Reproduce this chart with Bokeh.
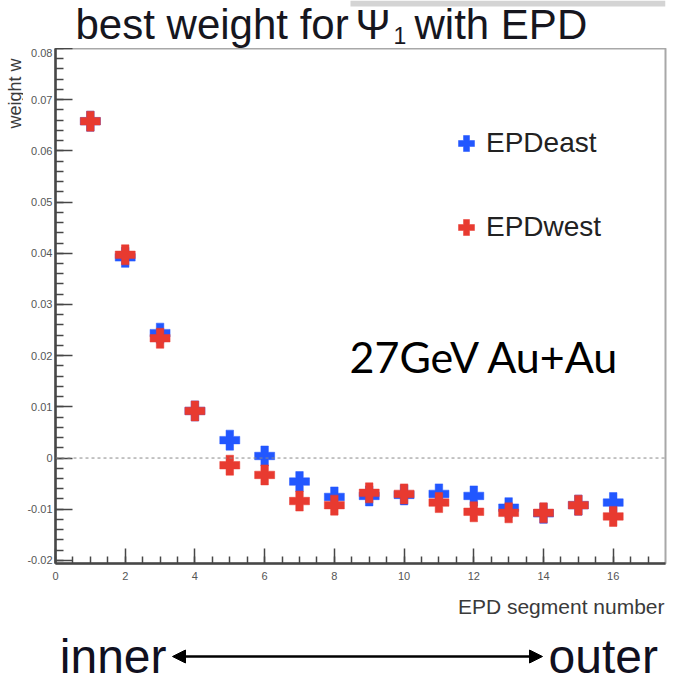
import numpy as np
from bokeh.plotting import figure
from bokeh.models import (Range1d, FixedTicker, Span, Label, Legend, LegendItem,
                          Arrow, NormalHead)
from bokeh.layouts import column, row
from bokeh.embed import file_html
from bokeh.resources import INLINE

# best weights per EPD ring (segment 1 = innermost)
segments = list(range(1, 17))
w_east = [0.0658, 0.0392, 0.0244, 0.0092, 0.0035, 0.0004, -0.0046, -0.0076,
          -0.0074, -0.0072, -0.0070, -0.0074, -0.0097, -0.0108, -0.0092, -0.0087]
w_west = [0.0658, 0.0397, 0.0234, 0.0092, -0.0014, -0.0033, -0.0084, -0.0092,
          -0.0068, -0.0070, -0.0087, -0.0105, -0.0107, -0.0107, -0.0092, -0.0114]

x_ticks = [0, 2, 4, 6, 8, 10, 12, 14, 16]
x_tick_labels = ["0", "2", "4", "6", "8", "10", "12", "14", "16"]
y_ticks = [-0.02, -0.01, 0.0, 0.01, 0.02, 0.03, 0.04, 0.05, 0.06, 0.07, 0.08]
y_tick_labels = ["-0.02", "-0.01", "0", "0.01", "0.02", "0.03", "0.04",
                 "0.05", "0.06", "0.07", "0.08"]

series_names = ["EPDeast", "EPDwest"]
series_colors = ["#2257ff", "#e83a30"]

# ---- page geometry (pixels from the top-left of the page) ----
W = 679
LEFT, RIGHT = 55, 665          # frame edges shared by all strips
TOP, BOTTOM = 48, 563          # frame of the main plot
MAIN_END = 590                 # main plot ends just under its tick labels
PAGE_H = 685
YLAB_W = 23                    # strip holding the y-axis title
X0, X1 = 0.0, 17.5
Y0, Y1 = -0.0206, 0.08


def cx(px):
    return X0 + (px - LEFT) / (RIGHT - LEFT) * (X1 - X0)


def cy(py):
    return Y1 - (py - TOP) / (BOTTOM - TOP) * (Y1 - Y0)


def blank(width, height, x_rng, y_rng, bl, br, bt, bb):
    """A figure without axes; data coordinates are page pixels."""
    f = figure(width=width, height=height, output_backend="svg",
               toolbar_location=None, x_range=Range1d(*x_rng),
               y_range=Range1d(*y_rng),
               min_border_left=bl, min_border_right=br,
               min_border_top=bt, min_border_bottom=bb,
               x_axis_location=None, y_axis_location=None)
    f.grid.visible = False
    f.outline_line_color = None
    f.background_fill_color = "white"
    f.border_fill_color = "white"
    return f


# ---- title strip ----
t = blank(W, TOP, (LEFT, RIGHT), (TOP, 0), LEFT, W - RIGHT, 0, 0)
t.quad(left=[350], right=[RIGHT], top=[0], bottom=[6],
       fill_color="#d4d4d4", line_color=None)
title_font = "Liberation Sans"
title_col = "#16161e"
title_parts = [("best weight for", 75, 24, "42px"),
               ("\u03a8", 355, 24, "42px"),
               ("1", 393, 34.5, "23px"),
               ("with EPD", 414, 24, "42px")]
for txt, x, y, size in title_parts:
    t.add_layout(Label(x=x, y=y, text=txt, text_font=title_font,
                       text_font_size=size, text_color=title_col,
                       text_align="left", text_baseline="middle"))

# ---- y-axis title strip ----
yl = blank(YLAB_W, MAIN_END - TOP, (0, YLAB_W), (BOTTOM, TOP),
           0, 0, 0, MAIN_END - BOTTOM)
yl.add_layout(Label(x=14, y=58, text="weight w", angle=np.pi / 2,
                    text_align="right", text_baseline="middle",
                    text_font="Liberation Sans", text_font_size="18px",
                    text_color="#3a3a3a"))

# ---- main plot ----
p = figure(width=W - YLAB_W, height=MAIN_END - TOP, output_backend="svg",
           toolbar_location=None,
           x_range=Range1d(X0, X1), y_range=Range1d(Y0, Y1),
           min_border_left=LEFT - YLAB_W, min_border_right=W - RIGHT,
           min_border_top=0, min_border_bottom=MAIN_END - BOTTOM)
p.grid.visible = False
p.background_fill_color = "white"
p.border_fill_color = "white"
p.outline_line_color = "#a8a8a8"
p.outline_line_width = 2

axis_col = "#474747"
for ax in (p.xaxis[0], p.yaxis[0]):
    ax.axis_line_color = axis_col
    ax.axis_line_width = 2.5
    ax.major_tick_line_color = axis_col
    ax.minor_tick_line_color = axis_col
    ax.major_tick_line_width = 1.5
    ax.minor_tick_line_width = 1.5
    ax.major_tick_out = 0
    ax.minor_tick_out = 0
    ax.major_label_text_font = "Liberation Sans"
    ax.major_label_text_font_size = "11px"
    ax.major_label_text_color = "#555555"

p.xaxis.ticker = FixedTicker(ticks=x_ticks,
                             minor_ticks=list(np.arange(0, 17.5, 0.5)))
p.xaxis.major_label_overrides = dict(zip(x_ticks, x_tick_labels))
p.xaxis.major_tick_in = 15
p.xaxis.minor_tick_in = 7
p.xaxis.major_label_standoff = 8

p.yaxis.ticker = FixedTicker(ticks=y_ticks,
                             minor_ticks=list(np.round(np.arange(-0.02, 0.0801, 0.002), 4)))
p.yaxis.major_label_overrides = dict(zip(y_ticks, y_tick_labels))
p.yaxis.major_tick_in = 17
p.yaxis.minor_tick_in = 8
p.yaxis.major_label_standoff = 3

# dashed reference line at w = 0
p.add_layout(Span(location=0, dimension="width", line_color="#8a8a8a",
                  line_dash="3 3", line_width=1))

r_east = p.scatter(segments, w_east, marker="plus", size=20,
                   fill_color=series_colors[0], line_color=series_colors[0],
                   line_width=0.5)
r_west = p.scatter(segments, w_west, marker="plus", size=20,
                   fill_color=series_colors[1], line_color=series_colors[1],
                   line_width=0.5)

legend = Legend(items=[LegendItem(label=series_names[0], renderers=[r_east]),
                       LegendItem(label=series_names[1], renderers=[r_west])],
                location=(391, 312), orientation="vertical",
                glyph_width=40, glyph_height=48, spacing=36,
                label_standoff=0, padding=0, margin=0,
                border_line_color=None, background_fill_alpha=0,
                label_text_font="Liberation Sans", label_text_font_size="28px",
                label_text_color="#222222")
p.add_layout(legend)

# energy / system annotation
p.add_layout(Label(x=cx(349), y=cy(356), text="27GeV Au+Au",
                   text_font="Lato", text_font_size="43px",
                   text_color="black", text_baseline="middle"))

# ---- x-axis title and inner <-> outer strip ----
q = blank(W, PAGE_H - MAIN_END, (LEFT, RIGHT), (PAGE_H, MAIN_END),
          LEFT, W - RIGHT, 0, 0)
q.add_layout(Label(x=664, y=606, text="EPD segment number", text_align="right",
                   text_baseline="middle", text_font="Liberation Sans",
                   text_font_size="21px", text_color="#3a3a3a"))
q.add_layout(Arrow(start=NormalHead(size=13, fill_color="black", line_color="black"),
                   end=NormalHead(size=13, fill_color="black", line_color="black"),
                   x_start=172, y_start=656, x_end=542, y_end=656,
                   line_width=2.5, line_color="black"))
q.add_layout(Label(x=166, y=656, text="inner", text_align="right",
                   text_font="Liberation Sans", text_font_size="48px",
                   text_color="#101020", text_baseline="middle"))
q.add_layout(Label(x=548, y=656, text="outer", text_align="left",
                   text_font="Liberation Sans", text_font_size="48px",
                   text_color="#101020", text_baseline="middle"))

layout = column(t, row(yl, p, spacing=0), q, spacing=0)
open("out.html", "w").write(file_html(layout, INLINE))
